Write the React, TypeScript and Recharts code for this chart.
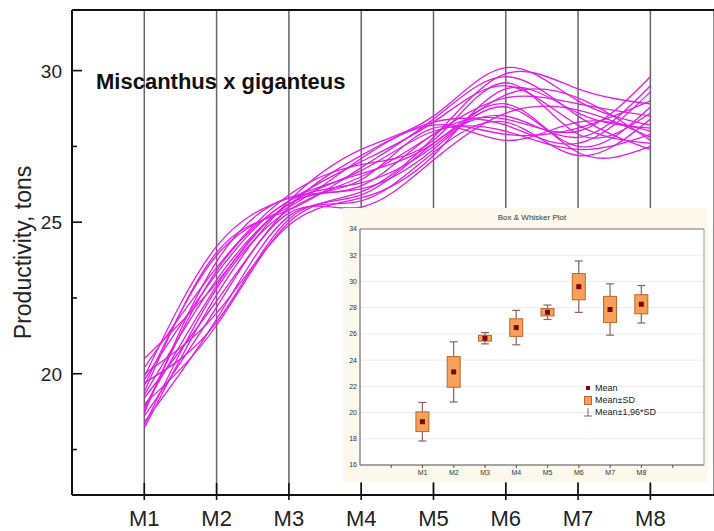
import React from "react";
import {
  LineChart,
  Line,
  XAxis,
  YAxis,
  CartesianGrid,
  ReferenceLine,
  ComposedChart,
  Bar,
} from "recharts";

const FONT = "'Liberation Sans', Arial, sans-serif";
const MAGENTA = "#E01EE6";

const months = ["M1", "M2", "M3", "M4", "M5", "M6", "M7", "M8"];
const monthPos = [1, 2, 3, 4, 5, 6, 7, 8];
const yTicks = [17.5, 20, 22.5, 25, 27.5, 30];
const insetYTicks = [16, 18, 20, 22, 24, 26, 28, 30, 32, 34];
const insetXTicks = [0, 1, 2, 3, 4, 5, 6, 7, 8, 9];

// one row per plantation run, values at M1..M8
const run01 = [20.5, 23.0, 25.6, 26.2, 27.9, 28.4, 28.0, 29.8];
const run02 = [18.2, 22.6, 25.7, 27.4, 28.5, 30.1, 29.0, 28.2];
const run03 = [19.9, 24.2, 25.8, 26.6, 27.6, 28.9, 27.3, 27.5];
const run04 = [19.0, 21.6, 25.0, 26.0, 27.8, 29.9, 29.4, 28.9];
const run05 = [19.6, 23.9, 25.5, 27.1, 28.3, 28.2, 27.6, 29.3];
const run06 = [18.6, 22.2, 25.3, 25.5, 27.05, 28.6, 28.7, 27.8];
const run07 = [20.2, 23.5, 25.9, 26.9, 27.7, 29.6, 27.9, 28.6];
const run08 = [18.9, 22.9, 25.6, 26.4, 28.1, 27.7, 28.3, 28.0];
const run09 = [19.4, 24.0, 25.4, 26.8, 28.4, 29.8, 28.5, 27.4];
const run10 = [18.4, 21.8, 25.2, 25.7, 27.3, 28.3, 27.2, 28.4];
const run11 = [19.8, 23.3, 25.7, 26.3, 27.5, 29.2, 29.1, 27.7];
const run12 = [19.2, 22.4, 25.5, 27.2, 28.2, 27.9, 28.1, 29.0];
const run13 = [18.7, 23.7, 25.8, 26.1, 27.4, 28.8, 27.5, 28.8];
const run14 = [20.0, 22.0, 24.9, 25.8, 27.2, 29.4, 28.6, 28.1];
const run15 = [19.3, 23.1, 25.6, 26.7, 28.0, 28.0, 27.4, 27.9];
const run16 = [18.3, 22.8, 25.4, 26.5, 27.9, 29.1, 28.9, 28.5];
const run17 = [19.7, 21.7, 25.1, 25.9, 27.6, 28.5, 27.8, 29.5];
const run18 = [18.8, 23.4, 25.7, 27.0, 28.3, 29.5, 28.2, 27.6];

const runs = [
  run01, run02, run03, run04, run05, run06, run07, run08, run09,
  run10, run11, run12, run13, run14, run15, run16, run17, run18,
];

// box & whisker inset
const boxMeans = [19.3, 23.1, 25.67, 26.48, 27.65, 29.6, 27.86, 28.26];
const boxSD = [0.75, 1.17, 0.22, 0.67, 0.28, 1.0, 1.0, 0.73];

const lineData = monthPos.map((m, i) => {
  const row: Record<string, number> = { m };
  runs.forEach((r, k) => {
    row[`r${k}`] = r[i];
  });
  return row;
});

const boxData = monthPos.map((m, i) => ({
  m,
  name: months[i],
  mean: boxMeans[i],
  sd: boxSD[i],
  range: [boxMeans[i] - 1.96 * boxSD[i], boxMeans[i] + 1.96 * boxSD[i]],
}));

const YTick = (props: any) => {
  const { x, y, payload } = props;
  const major = payload.value % 5 === 0;
  return (
    <g>
      <line x1={x} x2={x + (major ? 10 : 5)} y1={y} y2={y} stroke="#111" strokeWidth={1.6} />
      {major && (
        <text x={x - 10} y={y} dy={7} textAnchor="end" fontSize={19} fill="#222" fontFamily={FONT}>
          {payload.value}
        </text>
      )}
    </g>
  );
};

const XTick = (props: any) => {
  const { x, y, payload } = props;
  return (
    <g>
      <line x1={x} x2={x} y1={y - 12} y2={y + 5} stroke="#111" strokeWidth={1.6} />
      <text x={x} y={y + 31} textAnchor="middle" fontSize={22} fill="#222" fontFamily={FONT}>
        {`M${payload.value}`}
      </text>
    </g>
  );
};

const BoxShape = (props: any) => {
  const { x, y, width, height, payload } = props;
  if (x == null || y == null) return null;
  const top = Math.min(y, y + height);
  const h = Math.abs(height);
  const hi = payload.mean + 1.96 * payload.sd;
  const span = 3.92 * payload.sd;
  const py = (v: number) => top + (h * (hi - v)) / span;
  const cx = x + width / 2;
  const boxTop = py(payload.mean + payload.sd);
  const boxBottom = py(payload.mean - payload.sd);
  const my = py(payload.mean);
  return (
    <g>
      <line x1={cx} x2={cx} y1={top} y2={top + h} stroke="#8A6460" strokeWidth={1.2} />
      <line x1={cx - 4} x2={cx + 4} y1={top} y2={top} stroke="#8A6460" strokeWidth={1.2} />
      <line x1={cx - 4} x2={cx + 4} y1={top + h} y2={top + h} stroke="#8A6460" strokeWidth={1.2} />
      <rect x={x} y={boxTop} width={width} height={boxBottom - boxTop} fill="#F6A05A" stroke="#B8682E" strokeWidth={1} />
      <rect x={cx - 2.5} y={my - 2.5} width={5} height={5} fill="#7A0A0A" />
    </g>
  );
};

const InsetLegend = () => (
  <div
    style={{
      position: "absolute",
      left: 240,
      top: 174,
      fontFamily: FONT,
      fontSize: 9,
      color: "#222",
      lineHeight: "12px",
    }}
  >
    <div style={{ display: "flex", alignItems: "center" }}>
      <span style={{ width: 10, display: "inline-flex", justifyContent: "center" }}>
        <span style={{ width: 4, height: 4, background: "#7A0A0A" }} />
      </span>
      <span style={{ marginLeft: 2 }}>Mean</span>
    </div>
    <div style={{ display: "flex", alignItems: "center" }}>
      <span style={{ width: 8, height: 9, background: "#F6A05A", border: "1px solid #B8682E", boxSizing: "border-box", marginLeft: 1 }} />
      <span style={{ marginLeft: 3 }}>Mean±SD</span>
    </div>
    <div style={{ display: "flex", alignItems: "center" }}>
      <svg width={10} height={10}>
        <line x1={5} x2={5} y1={1} y2={9} stroke="#8A6460" />
        <line x1={1} x2={9} y1={9} y2={9} stroke="#8A6460" />
      </svg>
      <span style={{ marginLeft: 2 }}>Mean±1,96*SD</span>
    </div>
  </div>
);

const App = () => {
  return (
    <div style={{ position: "absolute", left: 0, top: 0, width: 714, height: 531, background: "#fff" }}>
      <LineChart width={714} height={531} data={lineData} margin={{ top: 10, right: 0, bottom: 0, left: 0 }}>
        <CartesianGrid horizontal={false} stroke="#666" strokeWidth={1.5} />
        <XAxis
          dataKey="m"
          type="number"
          domain={[0, 8.88]}
          ticks={monthPos}
          allowDataOverflow
          height={36}
          tickSize={0}
          tickMargin={0}
          tickLine={false}
          tick={<XTick />}
          axisLine={{ stroke: "#111", strokeWidth: 2 }}
        />
        <YAxis
          type="number"
          domain={[16, 32]}
          ticks={yTicks}
          allowDataOverflow
          width={72}
          tickSize={0}
          tickMargin={0}
          tickLine={false}
          tick={<YTick />}
          axisLine={{ stroke: "#111", strokeWidth: 2 }}
          label={{
            value: "Productivity, tons",
            angle: -90,
            position: "center",
            dx: -13,
            style: { fontSize: 23, fill: "#222", fontFamily: FONT },
          }}
        />
        <ReferenceLine y={32} stroke="#111" strokeWidth={2} />
        {runs.map((_, k) => (
          <Line
            key={k}
            dataKey={`r${k}`}
            type="natural"
            stroke={MAGENTA}
            strokeWidth={1.3}
            dot={false}
            isAnimationActive={false}
          />
        ))}
      </LineChart>

      <div
        style={{
          position: "absolute",
          left: 96,
          top: 69,
          fontFamily: FONT,
          fontSize: 22,
          fontWeight: "bold",
          color: "#111",
          whiteSpace: "nowrap",
        }}
      >
        Miscanthus x giganteus
      </div>

      <div
        style={{
          position: "absolute",
          left: 343,
          top: 208,
          width: 365,
          height: 274,
          background: "#FCF9EC",
        }}
      >
        <div
          style={{
            position: "absolute",
            left: 17,
            width: 344,
            top: 5,
            textAlign: "center",
            fontFamily: FONT,
            fontSize: 8,
            color: "#333",
          }}
        >
          Box &amp; Whisker Plot
        </div>
        <div style={{ position: "absolute", left: 17, top: 21, width: 344, height: 236, background: "#fff" }} />
        <div style={{ position: "absolute", left: 0, top: 0 }}>
          <ComposedChart width={365} height={274} data={boxData} margin={{ top: 21, right: 4, bottom: 0, left: 0 }}>
            <CartesianGrid vertical={false} stroke="#ECECEC" />
            <XAxis
              dataKey="m"
              type="number"
              domain={[-1, 10]}
              ticks={insetXTicks}
              allowDataOverflow
              height={17}
              tickSize={3}
              tickLine={{ stroke: "#555" }}
              tickFormatter={(v: number) => (v >= 1 && v <= 8 ? `M${v}` : "")}
              tick={{ fontSize: 7, fill: "#333", fontFamily: FONT }}
              axisLine={{ stroke: "#555" }}
            />
            <YAxis
              type="number"
              domain={[16, 34]}
              ticks={insetYTicks}
              allowDataOverflow
              width={17}
              tickSize={0}
              tickMargin={3}
              tick={{ fontSize: 7, fill: "#333", fontFamily: FONT }}
              axisLine={{ stroke: "#555" }}
            />
            <ReferenceLine y={34} stroke="#777" />
            <ReferenceLine x={10} stroke="#999" />
            <Bar dataKey="range" barSize={13} shape={<BoxShape />} isAnimationActive={false} />
          </ComposedChart>
        </div>
        <InsetLegend />
      </div>
    </div>
  );
};

export default App;
